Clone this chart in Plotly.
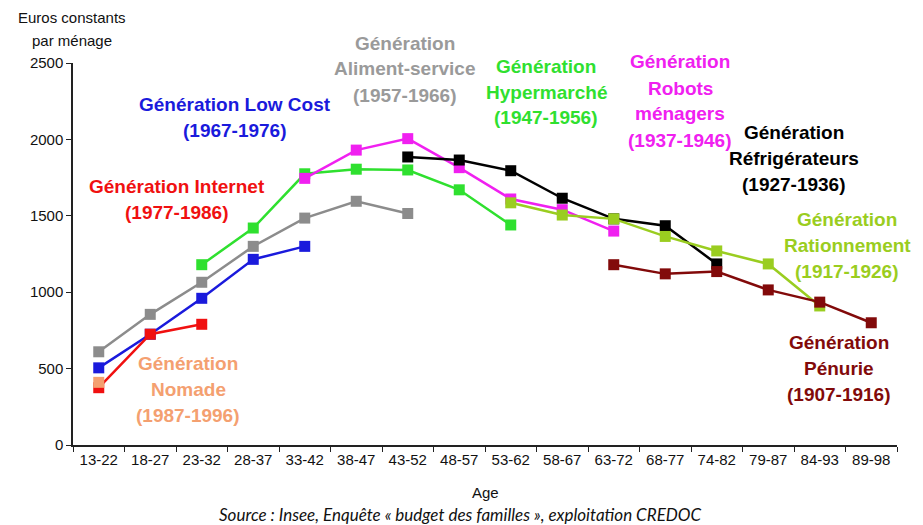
import plotly.graph_objects as go

ages = ["13-22", "18-27", "23-32", "28-37", "33-42", "38-47", "43-52", "48-57",
        "53-62", "58-67", "63-72", "68-77", "74-82", "79-87", "84-93", "89-98"]

# Values per generation (euros constants par ménage)
aliment_service = [610, 855, 1065, 1300, 1485, 1595, 1515]
low_cost = [505, 725, 960, 1215, 1300]
internet = [375, 725, 790]
nomade = [410]
hypermarche = [1180, 1420, 1775, 1805, 1800, 1670, 1440]
robots = [1745, 1930, 2005, 1815, 1610, 1540, 1400]
refrigerateurs = [1885, 1865, 1795, 1615, 1480, 1435, 1185]
rationnement = [1585, 1505, 1480, 1365, 1270, 1185, 910]
penurie = [1180, 1120, 1135, 1015, 935, 800]

series = [
    ("Génération Aliment-service", "#8c8c8c", 0, aliment_service),
    ("Génération Low Cost", "#1a1adc", 0, low_cost),
    ("Génération Internet", "#f01010", 0, internet),
    ("Génération Nomade", "#f4a070", 0, nomade),
    ("Génération Hypermarché", "#2fe02f", 2, hypermarche),
    ("Génération Robots ménagers", "#f020f0", 4, robots),
    ("Génération Réfrigérateurs", "#000000", 6, refrigerateurs),
    ("Génération Rationnement", "#9acd20", 8, rationnement),
    ("Génération Pénurie", "#820a0a", 10, penurie),
]

fig = go.Figure()
for name, color, start, vals in series:
    fig.add_trace(go.Scatter(
        x=ages[start:start + len(vals)], y=vals, name=name,
        mode="lines+markers",
        line=dict(color=color, width=2.5),
        marker=dict(symbol="square", size=11, color=color),
        showlegend=False,
    ))

OFF = 8  # browser body margin
W, H = 923 - OFF, 525 - OFF
L, R, T, B = 73 - OFF, 26, 63 - OFF, 80
pw, ph = W - L - R, H - T - B

def px(x):
    return (x - OFF - L) / pw

def py(y):
    return (H - B - (y - OFF)) / ph

FONT = "Liberation Sans, Arial, sans-serif"

labels = [
    (["Génération Low Cost", "(1967-1976)"], "#1a1adc", 235, 104),
    (["Génération Internet", "(1977-1986)"], "#f01010", 177, 186),
    (["Génération", "Nomade", "(1987-1996)"], "#f4a070", 188, 363),
    (["Génération", "Aliment-service", "(1957-1966)"], "#9a9a9a", 405, 43),
    (["Génération", "Hypermarché", "(1947-1956)"], "#2fe02f", 546, 66),
    (["Génération", "Robots", "ménagers", "(1937-1946)"], "#f020f0", 680, 62),
    (["Génération", "Réfrigérateurs", "(1927-1936)"], "#000000", 794, 132),
    (["Génération", "Rationnement", "(1917-1926)"], "#9acd20", 847, 219),
    (["Génération", "Pénurie", "(1907-1916)"], "#820a0a", 839, 342),
]

annotations = []
for lines, color, cx, cy in labels:
    for i, t in enumerate(lines):
        annotations.append(dict(
            x=px(cx), y=py(cy + i * 26), xref="paper", yref="paper",
            text="<b>%s</b>" % t, showarrow=False,
            xanchor="center", yanchor="middle",
            font=dict(family=FONT, size=19, color=color),
        ))

annotations += [
    dict(x=px(72), y=py(18), xref="paper", yref="paper", text="Euros constants",
         showarrow=False, xanchor="center", yanchor="middle",
         font=dict(family=FONT, size=15, color="#111")),
    dict(x=px(72), y=py(40), xref="paper", yref="paper", text="par ménage",
         showarrow=False, xanchor="center", yanchor="middle",
         font=dict(family=FONT, size=15, color="#111")),
    dict(x=px(485), y=py(492), xref="paper", yref="paper", text="Age",
         showarrow=False, xanchor="center", yanchor="middle",
         font=dict(family=FONT, size=15, color="#111")),
    dict(x=px(460), y=py(514), xref="paper", yref="paper",
         text="<i>Source : Insee, Enquête « budget des familles », exploitation CREDOC</i>",
         showarrow=False, xanchor="center", yanchor="middle",
         font=dict(family="Lato, sans-serif", size=17, color="#111")),
]

fig.update_layout(
    width=W, height=H,
    margin=dict(l=L, r=R, t=T, b=B),
    paper_bgcolor="white", plot_bgcolor="white",
    annotations=annotations,
    font=dict(family=FONT, color="#111"),
    xaxis=dict(
        type="category", categoryorder="array", categoryarray=ages,
        range=[-0.5, len(ages) - 0.5],
        showgrid=False, showline=True, linecolor="#222", linewidth=1.5,
        ticks="outside", tickson="boundaries", ticklen=5, tickcolor="#222",
        tickangle=0, tickfont=dict(size=15, family=FONT), zeroline=False,
    ),
    yaxis=dict(
        range=[0, 2500], tickvals=[0, 500, 1000, 1500, 2000, 2500],
        showgrid=False, showline=True, linecolor="#222", linewidth=1.5,
        ticks="outside", ticklen=5, tickcolor="#222",
        tickfont=dict(size=15, family=FONT), zeroline=False,
    ),
)

fig.write_html("out.html")
